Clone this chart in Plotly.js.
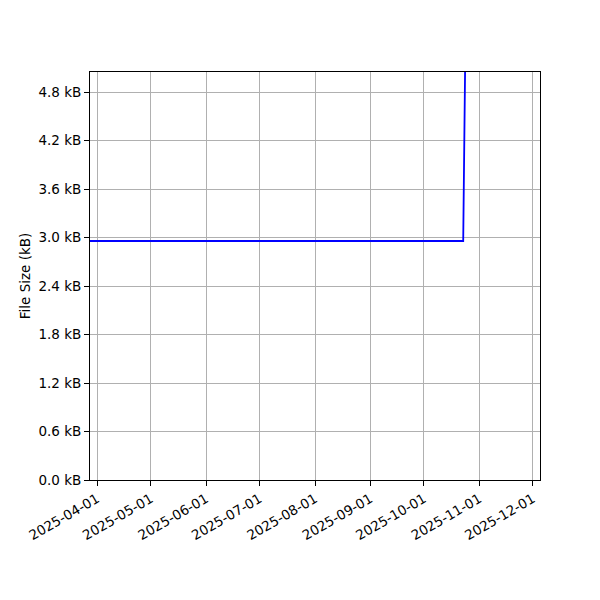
<!DOCTYPE html>
<html>
<head>
<meta charset="utf-8">
<script src="https://cdn.plot.ly/plotly-3.0.1.min.js"></script>
<style>html,body{margin:0;padding:0;background:#fff;}#chart{width:600px;height:600px;}</style>
</head>
<body>
<div id="chart"></div>
<script>
const dates = ["2025-03-20", "2025-10-23", "2025-10-25"];
const sizesKB = [2.957, 2.957, 7.0];
const xTicks = ["2025-04-01","2025-05-01","2025-06-01","2025-07-01","2025-08-01","2025-09-01","2025-10-01","2025-11-01","2025-12-01"];
const yTicks = [0, 0.6, 1.2, 1.8, 2.4, 3.0, 3.6, 4.2, 4.8];
const yTickLabels = yTicks.map(v => v.toFixed(1) + " kB");

const font = {family: "DejaVu Sans", size: 13.5, color: "#000"};
const axisCommon = {
  showline: true, linecolor: "#000", linewidth: 1, mirror: true,
  ticks: "outside", ticklen: 5, tickwidth: 1, tickcolor: "#000",
  showgrid: true, gridcolor: "#b0b0b0", gridwidth: 1, zeroline: false,
  tickfont: font
};

Plotly.newPlot("chart", [{
  x: dates, y: sizesKB, type: "scatter", mode: "lines",
  line: {color: "#0000ff", width: 1.8}
}], {
  width: 600, height: 600,
  margin: {l: 90, r: 60, t: 72, b: 120},
  paper_bgcolor: "#fff", plot_bgcolor: "#fff",
  showlegend: false,
  font: font,
  xaxis: Object.assign({}, axisCommon, {
    type: "date", range: ["2025-03-28", "2025-12-05"],
    tickmode: "array", tickvals: xTicks, ticktext: xTicks, tickangle: -30
  }),
  yaxis: Object.assign({}, axisCommon, {
    range: [0, 5.048], tickmode: "array", tickvals: yTicks, ticktext: yTickLabels,
    title: {text: "File Size (kB)", font: font, standoff: 4}
  })
}, {displayModeBar: false, staticPlot: true});
</script>
</body>
</html>
